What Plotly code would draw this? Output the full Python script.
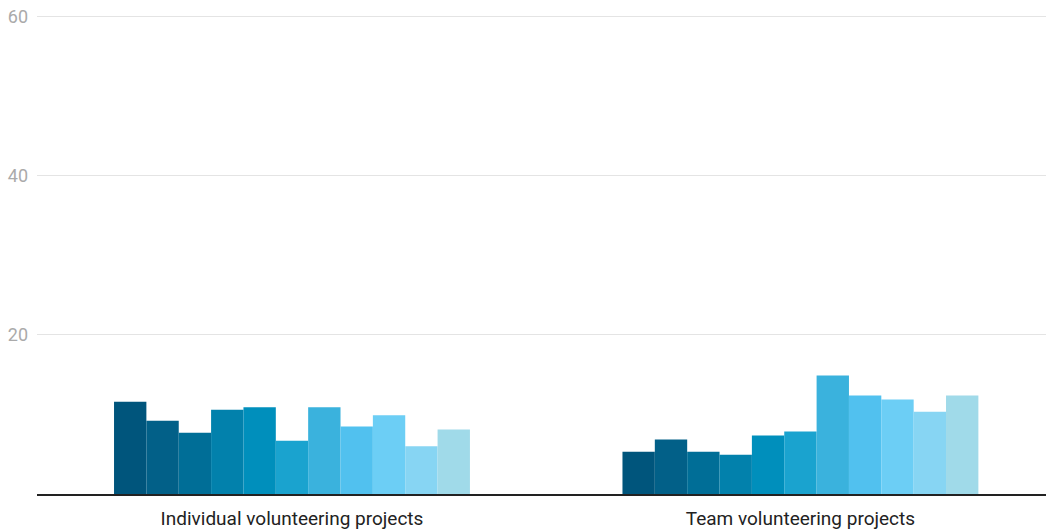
import plotly.graph_objects as go

categories = ["Individual volunteering projects", "Team volunteering projects"]
individual_values = [11.6, 9.2, 7.7, 10.6, 10.9, 6.7, 10.9, 8.5, 9.9, 6.0, 8.1]
team_values = [5.3, 6.85, 5.3, 4.95, 7.35, 7.85, 14.9, 12.4, 11.9, 10.35, 12.4]
series_names = [f"Series {i+1}" for i in range(11)]
colors = ["#00557C", "#026088", "#006E97", "#0281AC", "#008FBC", "#1AA3CF",
          "#3AB2DD", "#51C1EF", "#6CCEF5", "#87D5F3", "#A0DAE9"]
y_ticks = [0, 20, 40, 60]

fig = go.Figure()
for name, a, b, c in zip(series_names, individual_values, team_values, colors):
    fig.add_trace(go.Bar(name=name, x=categories, y=[a, b], marker=dict(color=c, line=dict(width=0))))

fig.update_layout(
    width=1046, height=529,
    margin=dict(l=37, r=0, t=1, b=35),
    barmode="group", bargap=0.30, bargroupgap=0,
    plot_bgcolor="white", paper_bgcolor="white",
    showlegend=False,
    font=dict(family="Roboto", size=18, color="#222"),
)
fig.update_xaxes(range=[-0.5015, 1.483], showline=True, linecolor="#222", linewidth=2,
                 tickfont=dict(size=19, color="#222"), ticks="", ticklabelstandoff=6)
fig.update_yaxes(range=[0, 62], tickvals=y_ticks, ticktext=["", "20", "40", "60"],
                 showgrid=True, gridcolor="#e4e4e4", gridwidth=1, zeroline=False,
                 tickfont=dict(size=18, color="#aaaaaa"), ticks="", ticklabelstandoff=8)

fig.write_html("out.html", config={"displayModeBar": False},
               post_script="document.body.style.margin='0';document.body.style.overflow='hidden';")
